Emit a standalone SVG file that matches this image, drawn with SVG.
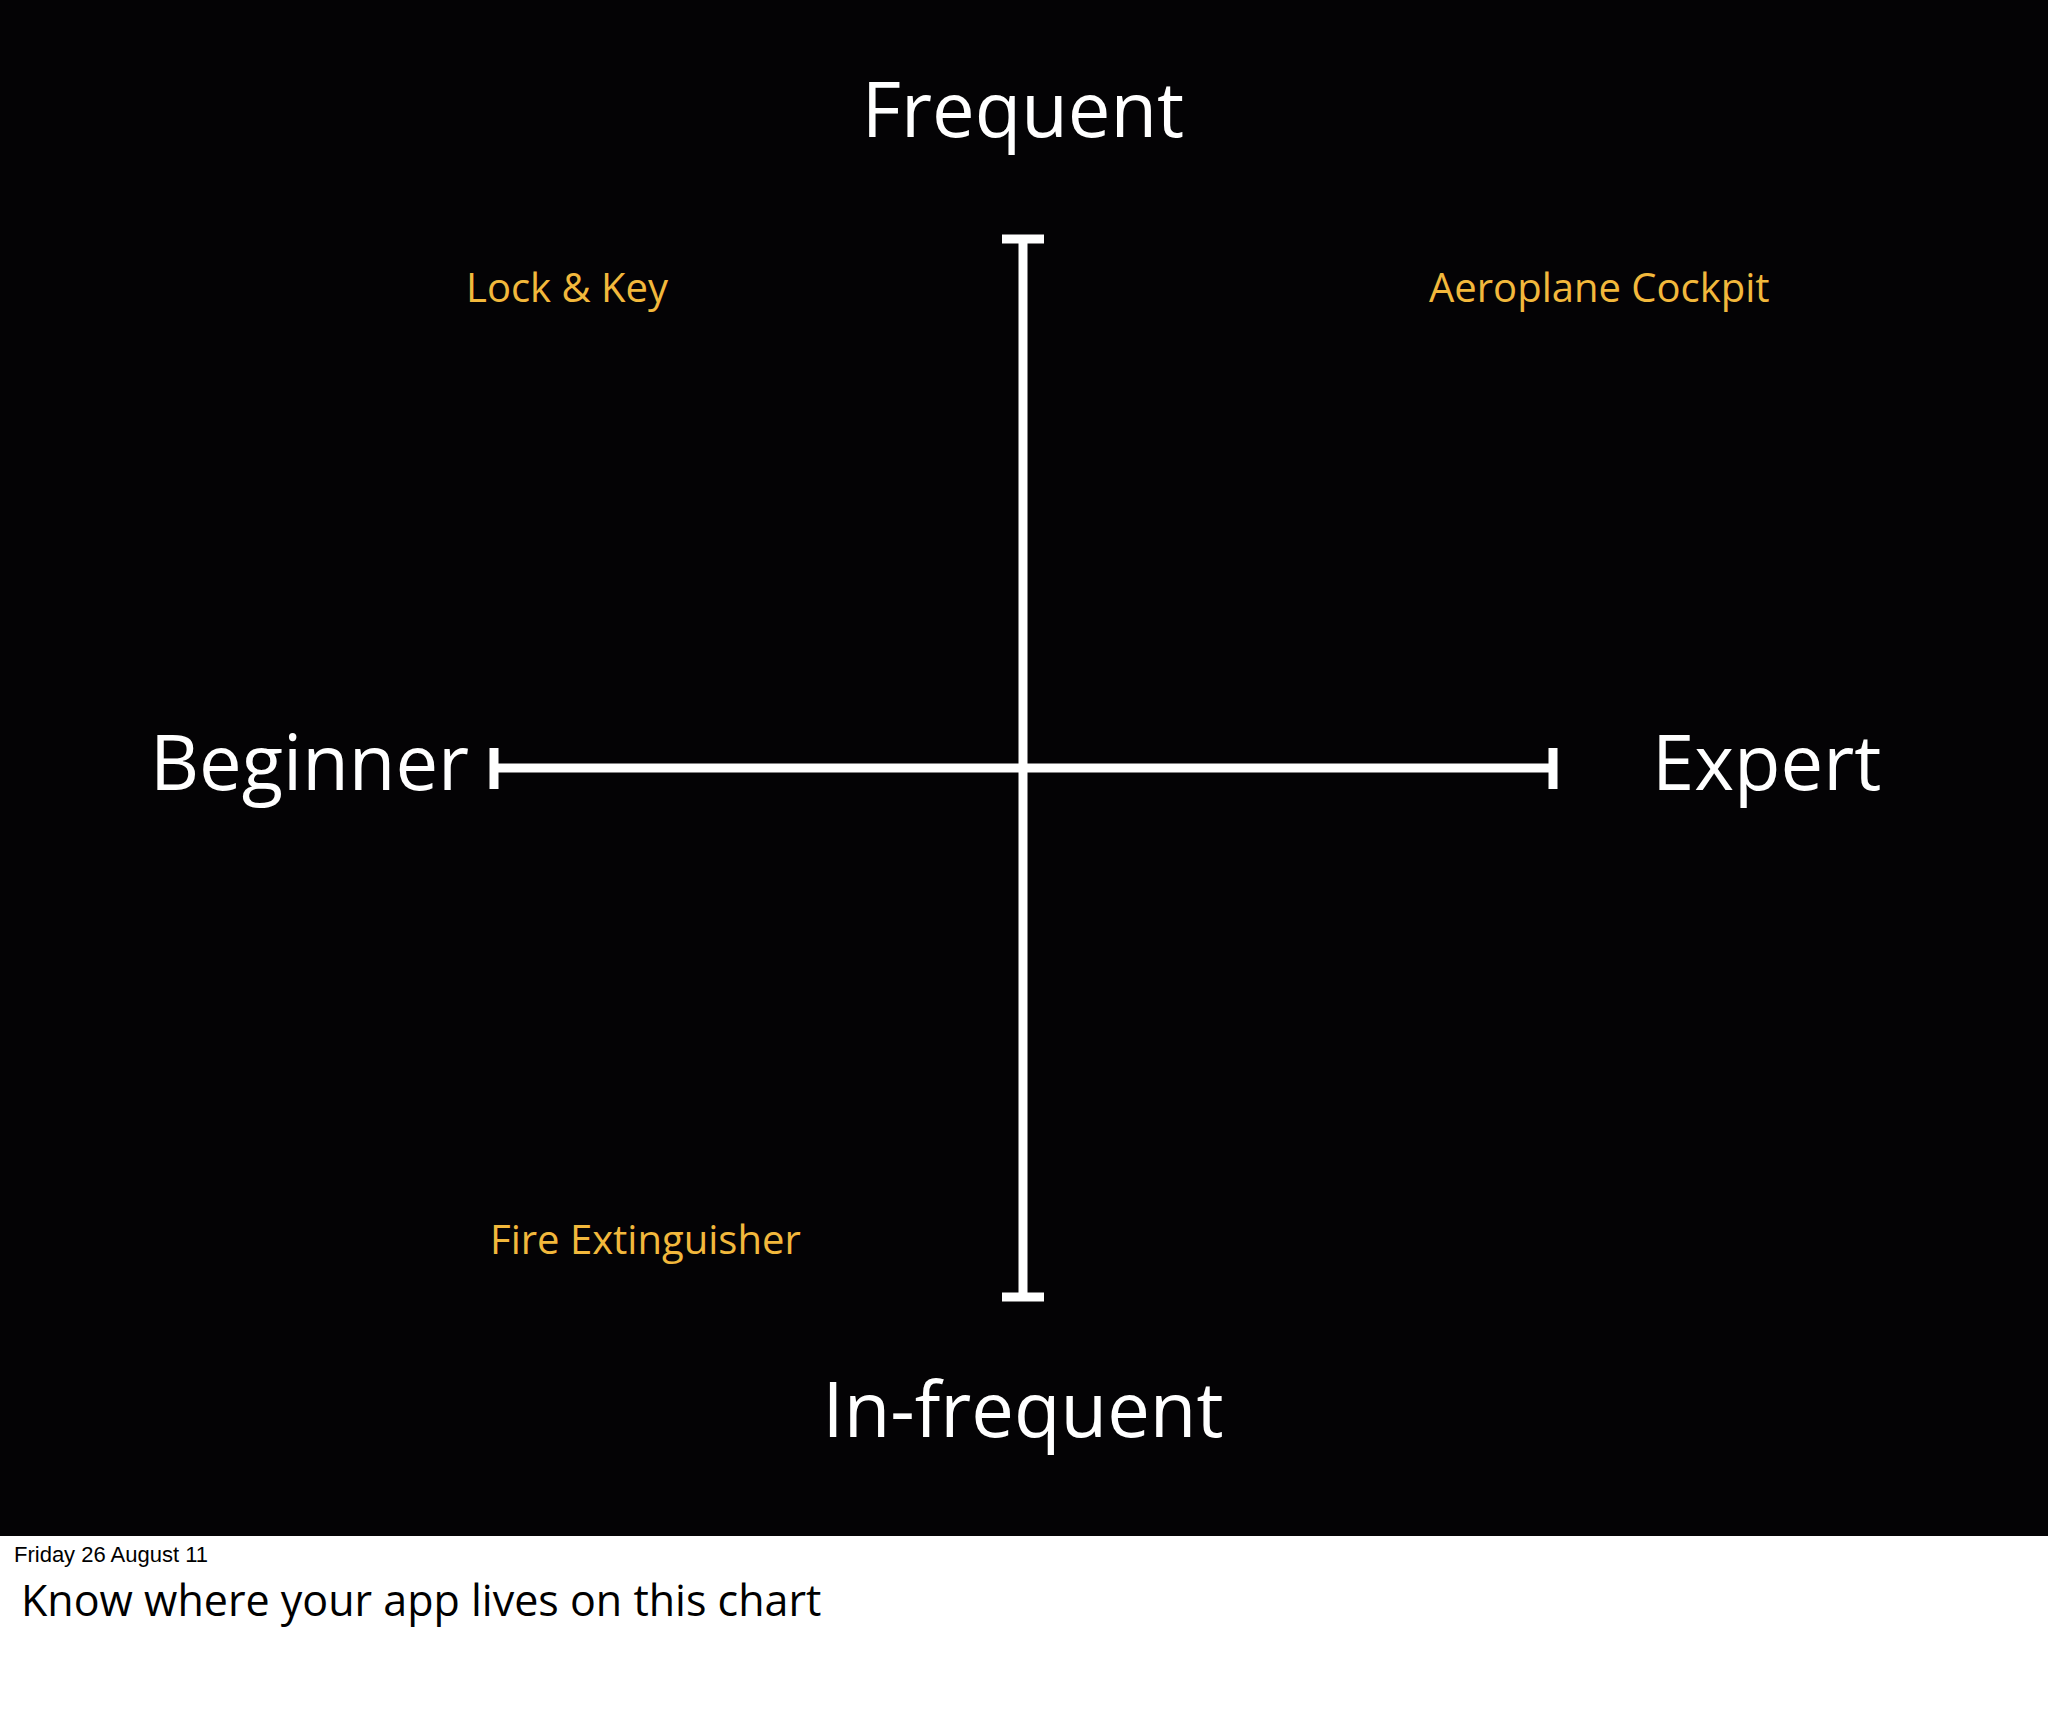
<svg xmlns="http://www.w3.org/2000/svg" width="2048" height="1732" viewBox="0 0 2048 1732">
<style>
.ax{font-family:"Open Sans","Liberation Sans",sans-serif;fill:#fff;font-size:76px}
.q{font-family:"Open Sans","Liberation Sans",sans-serif;fill:#f2b83c;font-size:40px}
.l{stroke:#fff;stroke-width:9;fill:none}
</style>
<rect width="2048" height="1732" fill="#fff"/>
<rect width="2048" height="1536" fill="#040305"/>
<g id="axes">
<path class="l" d="M1023 239V1297M1002 239H1044M1002 1297H1044M494 768H1553M494 748V789M1553 748V789"/>
</g>
<g id="frequent"><text class="ax" x="1023" y="137" text-anchor="middle">Frequent</text></g>
<g id="infrequent"><text class="ax" x="1023" y="1437" text-anchor="middle">In-frequent</text></g>
<g id="beginner"><text class="ax" x="150" y="790">Beginner</text></g>
<g id="expert"><text class="ax" x="1652" y="790">Expert</text></g>
<g id="lock"><text class="q" x="466" y="302">Lock &amp; Key</text></g>
<g id="cockpit"><text class="q" x="1429" y="302">Aeroplane Cockpit</text></g>
<g id="fire"><text class="q" x="490" y="1254">Fire Extinguisher</text></g>
<text x="14" y="1562" font-family="Liberation Sans,sans-serif" font-size="22" fill="#000">Friday 26 August 11</text>
<text x="21" y="1616" font-family="Open Sans,Liberation Sans,sans-serif" font-size="43" fill="#000">Know where your app lives on this chart</text>
</svg>
